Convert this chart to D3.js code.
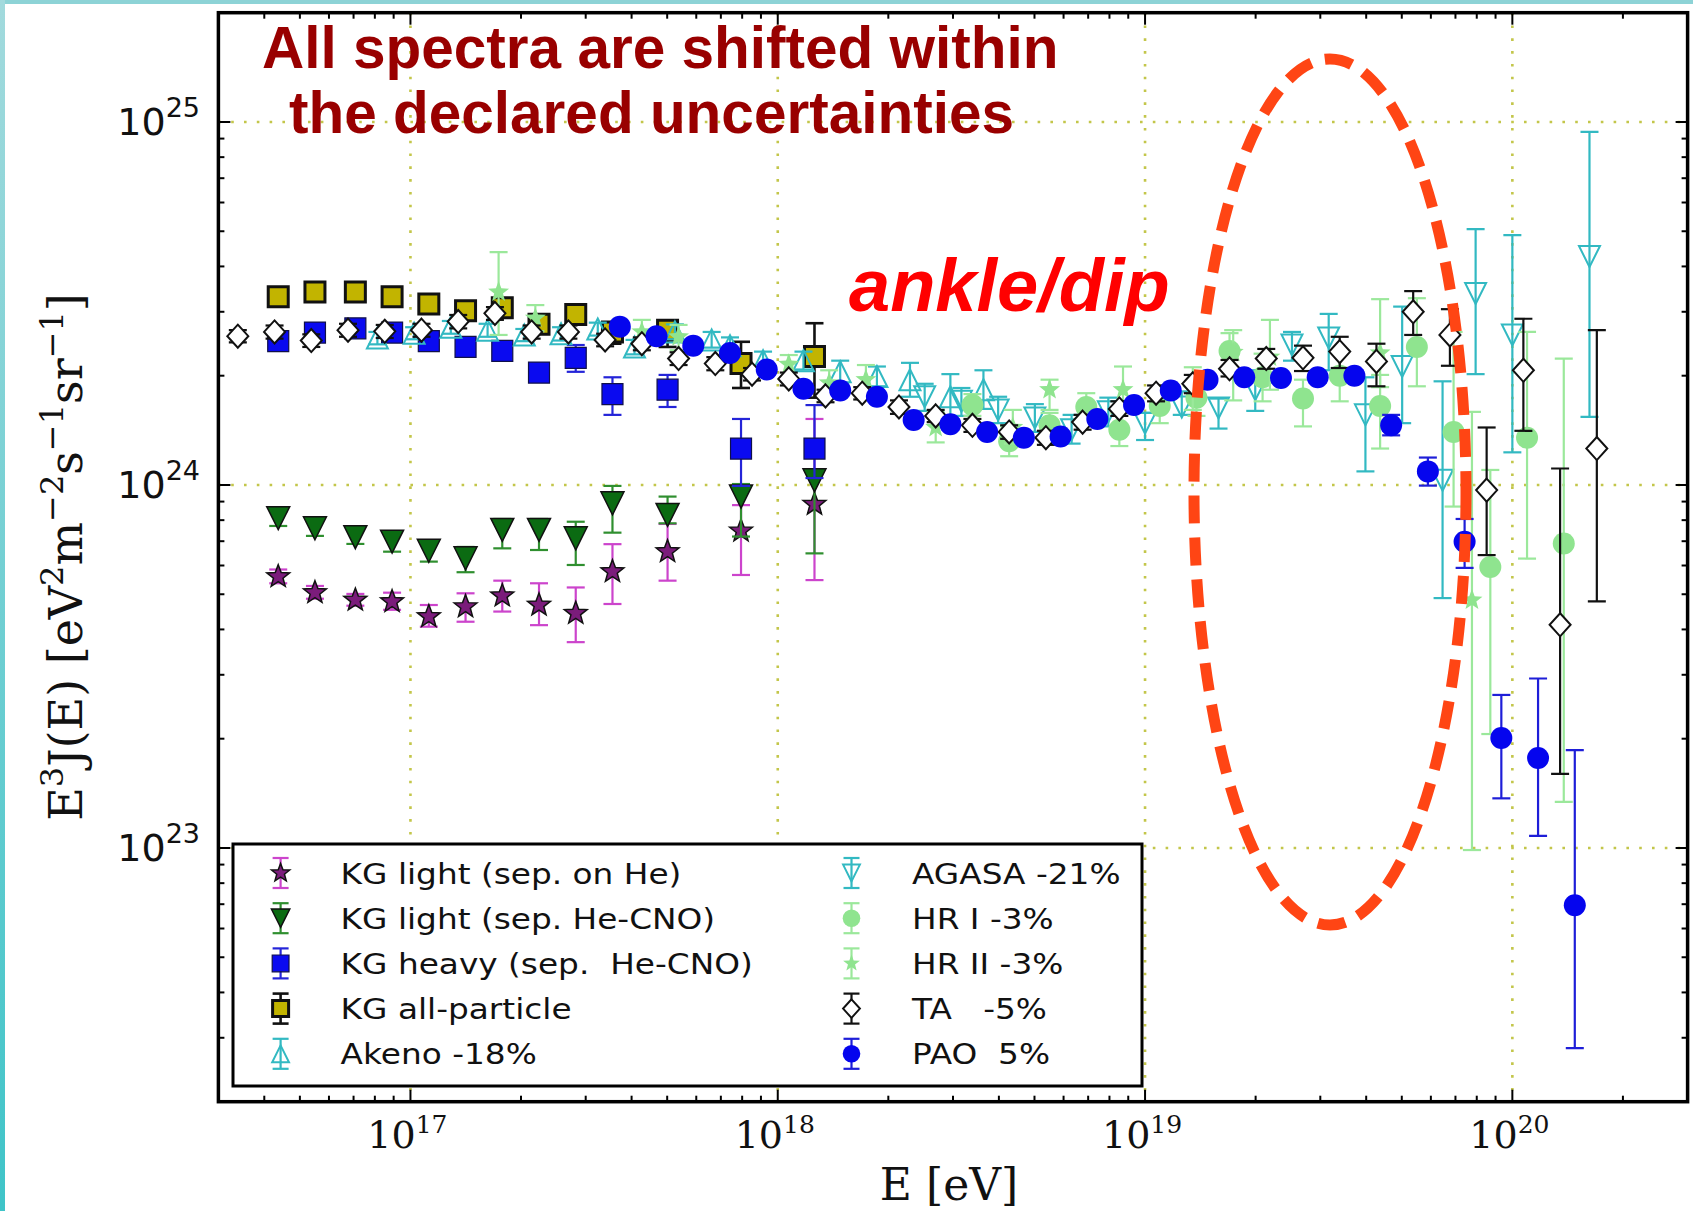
<!DOCTYPE html>
<html>
<head>
<meta charset="utf-8">
<script src="https://cdn.jsdelivr.net/npm/d3@7"></script>
<style>
  html, body { margin: 0; padding: 0; background: #fff; }
  svg { display: block; }
  text { white-space: pre; }
</style>
</head>
<body>
<div id="chart"></div>
<script>
// energies are log10(E/eV), fluxes are E^3 J(E) in units of 1e24 eV^2 m^-2 s^-1 sr^-1

var xTickExp = [17, 18, 19, 20];
var yTickExp = [23, 24, 25];

var kgLogE = [16.64, 16.74, 16.85, 16.95, 17.05, 17.15, 17.25, 17.35, 17.45, 17.55, 17.70, 17.90, 18.10];

var kgHeFlux = [0.559, 0.505, 0.482, 0.477, 0.434, 0.462, 0.495, 0.467, 0.443, 0.577, 0.655, 0.747, 0.885];
var kgHeLo = [0.536, 0.486, 0.465, 0.453, 0.407, 0.420, 0.448, 0.411, 0.369, 0.470, 0.545, 0.565, 0.547];
var kgHeHi = [0.585, 0.527, 0.501, 0.505, 0.467, 0.503, 0.545, 0.536, 0.522, 0.687, 0.781, 0.880, 1.52];

var kgCnoFlux = [0.810, 0.760, 0.718, 0.698, 0.659, 0.628, 0.752, 0.752, 0.713, 0.890, 0.827, 0.929, 1.03];
var kgCnoLo = [0.771, 0.724, 0.688, 0.655, 0.615, 0.575, 0.669, 0.662, 0.602, 0.739, 0.784, 0.721, 0.648];
var kgCnoHi = [0.843, 0.791, 0.752, 0.733, 0.701, 0.675, 0.806, 0.806, 0.792, 0.994, 0.929, 1.006, 1.10];

var kgHeavyFlux = [2.49, 2.63, 2.70, 2.63, 2.49, 2.40, 2.34, 2.04, 2.24, 1.78, 1.83, 1.26, 1.26];
var kgHeavyLo = [2.42, 2.56, 2.63, 2.56, 2.42, 2.33, 2.27, 1.97, 2.05, 1.56, 1.64, 0.994, 1.045];
var kgHeavyHi = [2.56, 2.70, 2.77, 2.70, 2.56, 2.47, 2.41, 2.11, 2.43, 1.98, 2.01, 1.52, 1.66];

var kgAllFlux = [3.30, 3.40, 3.40, 3.30, 3.15, 3.02, 3.08, 2.77, 2.95, 2.64, 2.67, 2.16, 2.26];
var kgAllLo = [3.22, 3.32, 3.32, 3.22, 3.07, 2.94, 3.00, 2.69, 2.87, 2.45, 2.40, 1.85, 1.74];
var kgAllHi = [3.38, 3.48, 3.48, 3.38, 3.23, 3.10, 3.16, 2.85, 3.03, 2.76, 2.73, 2.48, 2.79];

var akenoLogE = [16.91, 17.01, 17.11, 17.21, 17.31, 17.41, 17.51, 17.61, 17.72, 17.82, 17.87, 17.96, 18.07, 18.17, 18.27, 18.36, 18.47, 18.56];
var akenoFlux = [2.54, 2.62, 2.72, 2.67, 2.59, 2.61, 2.69, 2.40, 2.64, 2.51, 2.42, 2.20, 2.20, 2.05, 1.99, 1.95, 1.75, 1.83];
var akenoLo = [2.44, 2.52, 2.61, 2.56, 2.49, 2.50, 2.58, 2.29, 2.52, 2.39, 2.30, 2.08, 2.08, 1.90, 1.87, 1.75, 1.52, 1.62];
var akenoHi = [2.64, 2.72, 2.83, 2.78, 2.69, 2.72, 2.80, 2.51, 2.77, 2.64, 2.55, 2.33, 2.33, 2.20, 2.12, 2.17, 2.02, 2.07];

var agasaLogE = [18.40, 18.50, 18.60, 18.70, 18.80, 18.90, 19.00, 19.10, 19.20, 19.30, 19.40, 19.50, 19.60, 19.70, 19.81, 19.90, 20.00, 20.21];
var agasaFlux = [1.75, 1.70, 1.61, 1.53, 1.42, 1.59, 1.48, 1.64, 1.63, 1.83, 2.43, 2.54, 1.56, 2.12, 1.03, 3.37, 2.59, 4.26];
var agasaLo = [1.60, 1.55, 1.48, 1.40, 1.30, 1.45, 1.33, 1.56, 1.43, 1.60, 2.20, 2.07, 1.09, 1.48, 0.488, 2.02, 1.23, 1.54];
var agasaHi = [1.90, 1.85, 1.75, 1.67, 1.56, 1.74, 1.58, 1.81, 1.73, 2.07, 2.64, 2.96, 1.98, 3.10, 1.93, 5.07, 4.88, 9.39];

var hr1LogE = [18.53, 18.63, 18.74, 18.84, 18.93, 19.04, 19.14, 19.23, 19.32, 19.43, 19.53, 19.64, 19.74, 19.84, 19.94, 20.04, 20.14];
var hr1Flux = [1.66, 1.32, 1.46, 1.64, 1.42, 1.65, 1.74, 2.34, 1.98, 1.73, 2.00, 1.65, 2.40, 1.40, 0.594, 1.35, 0.690];
var hr1Lo = [1.55, 1.20, 1.35, 1.50, 1.28, 1.48, 1.55, 2.10, 1.70, 1.45, 1.70, 1.26, 1.87, 0.872, 0.206, 0.627, 0.134];
var hr1Hi = [1.78, 1.45, 1.58, 1.79, 1.58, 1.84, 1.95, 2.62, 2.30, 1.95, 2.35, 2.01, 3.27, 2.64, 1.10, 2.64, 2.23];

var hr2LogE = [17.24, 17.34, 17.63, 17.73, 18.03, 18.14, 18.24, 18.43, 18.64, 18.74, 18.94, 19.13, 19.24, 19.34, 19.64, 19.89];
var hr2Flux = [3.40, 2.88, 2.64, 2.56, 2.15, 1.91, 1.95, 1.44, 1.44, 1.83, 1.83, 1.83, 2.32, 2.25, 2.31, 0.482];
var hr2Lo = [2.59, 2.65, 2.43, 2.35, 1.93, 1.76, 1.77, 1.31, 1.30, 1.61, 1.64, 1.61, 1.71, 1.83, 1.86, 0.0987];
var hr2Hi = [4.38, 3.13, 2.85, 2.76, 2.28, 2.07, 2.14, 1.59, 1.61, 1.95, 2.12, 2.11, 2.67, 2.85, 3.25, 1.59];

var taLogE = [16.53, 16.63, 16.73, 16.83, 16.93, 17.03, 17.13, 17.23, 17.33, 17.43, 17.53, 17.63, 17.73, 17.83, 17.93, 18.03, 18.13, 18.23, 18.33,
  18.43, 18.53, 18.63, 18.73, 18.83, 18.93, 19.03, 19.13, 19.23, 19.33, 19.43, 19.53, 19.63, 19.73, 19.83, 19.93, 20.03, 20.13, 20.23];
var taFlux = [2.57, 2.64, 2.50, 2.67, 2.65, 2.67, 2.82, 2.97, 2.64, 2.64, 2.51, 2.45, 2.23, 2.16, 2.02, 1.96, 1.76, 1.79, 1.64,
  1.55, 1.46, 1.40, 1.35, 1.49, 1.62, 1.79, 1.90, 2.09, 2.23, 2.24, 2.33, 2.19, 3.00, 2.59, 0.968, 2.07, 0.412, 1.26];
var taLo = [2.47, 2.53, 2.40, 2.56, 2.54, 2.56, 2.70, 2.85, 2.53, 2.53, 2.41, 2.35, 2.14, 2.07, 1.94, 1.88, 1.69, 1.72, 1.57,
  1.49, 1.40, 1.34, 1.29, 1.42, 1.55, 1.70, 1.79, 1.99, 2.09, 2.06, 2.10, 1.87, 2.59, 2.13, 0.641, 1.41, 0.160, 0.478];
var taHi = [2.67, 2.75, 2.60, 2.78, 2.76, 2.78, 2.94, 3.09, 2.75, 2.75, 2.61, 2.55, 2.32, 2.25, 2.10, 2.04, 1.83, 1.86, 1.71,
  1.61, 1.52, 1.46, 1.41, 1.56, 1.70, 1.88, 2.01, 2.21, 2.37, 2.42, 2.56, 2.45, 3.42, 3.05, 1.44, 2.87, 1.11, 2.67];

var paoLogE = [17.57, 17.67, 17.77, 17.87, 17.97, 18.07, 18.17, 18.27, 18.37, 18.47, 18.57, 18.67, 18.77, 18.87, 18.97, 19.07, 19.17,
  19.27, 19.37, 19.47, 19.57, 19.67, 19.77, 19.87, 19.97, 20.07, 20.17];
var paoFlux = [2.73, 2.57, 2.42, 2.31, 2.08, 1.84, 1.82, 1.75, 1.51, 1.47, 1.40, 1.35, 1.36, 1.52, 1.66, 1.82, 1.95,
  1.98, 1.97, 1.98, 2.00, 1.46, 1.09, 0.698, 0.201, 0.177, 0.0695];
var paoLo = [2.68, 2.52, 2.37, 2.26, 2.04, 1.80, 1.78, 1.72, 1.48, 1.44, 1.37, 1.32, 1.33, 1.49, 1.63, 1.78, 1.91,
  1.94, 1.92, 1.92, 1.93, 1.37, 0.996, 0.591, 0.137, 0.108, 0.0281];
var paoHi = [2.78, 2.62, 2.47, 2.36, 2.12, 1.88, 1.86, 1.79, 1.54, 1.50, 1.43, 1.38, 1.39, 1.55, 1.69, 1.86, 1.99,
  2.02, 2.02, 2.04, 2.07, 1.56, 1.19, 0.806, 0.264, 0.293, 0.186];

var series = [
  {name: "KG light (sep. on He)", logE: kgLogE, flux: kgHeFlux, lo: kgHeLo, hi: kgHeHi,
    shape: "star", r: 12, fill: "#7b1c7b", stroke: "#111", sw: 1.5, err: "#cc44cc", ew: 2.2},
  {name: "KG light (sep. He-CNO)", logE: kgLogE, flux: kgCnoFlux, lo: kgCnoLo, hi: kgCnoHi,
    shape: "triDown", r: 11.5, fill: "#0b6b12", stroke: "#111", sw: 1.5, err: "#2f8f2f", ew: 2.2},
  {name: "KG heavy (sep.  He-CNO)", logE: kgLogE, flux: kgHeavyFlux, lo: kgHeavyLo, hi: kgHeavyHi,
    shape: "square", r: 10.5, fill: "#0a0af0", stroke: "#10104a", sw: 1.2, err: "#2424d8", ew: 2.2},
  {name: "KG all-particle", logE: kgLogE, flux: kgAllFlux, lo: kgAllLo, hi: kgAllHi,
    shape: "square", r: 10, fill: "#c2b400", stroke: "#111", sw: 3, err: "#111", ew: 2.6},
  {name: "Akeno -18%", logE: akenoLogE, flux: akenoFlux, lo: akenoLo, hi: akenoHi,
    shape: "triUp", r: 10.5, fill: "none", stroke: "#32b9c2", sw: 2, err: "#32b9c2", ew: 2.2},
  {name: "AGASA -21%", logE: agasaLogE, flux: agasaFlux, lo: agasaLo, hi: agasaHi,
    shape: "triDown", r: 10.5, fill: "none", stroke: "#32b9c2", sw: 2, err: "#32b9c2", ew: 2.2},
  {name: "HR I -3%", logE: hr1LogE, flux: hr1Flux, lo: hr1Lo, hi: hr1Hi,
    shape: "circle", r: 11, fill: "#8fe48f", stroke: "none", sw: 0, err: "#9be89b", ew: 2.2},
  {name: "HR II -3%", logE: hr2LogE, flux: hr2Flux, lo: hr2Lo, hi: hr2Hi,
    shape: "star", r: 11, fill: "#8fe48f", stroke: "none", sw: 0, err: "#9be89b", ew: 2.2},
  {name: "TA   -5%", logE: taLogE, flux: taFlux, lo: taLo, hi: taHi,
    shape: "diamond", r: 10.5, fill: "#fff", stroke: "#111", sw: 2, err: "#111", ew: 2.2},
  {name: "PAO  5%", logE: paoLogE, flux: paoFlux, lo: paoLo, hi: paoHi,
    shape: "circle", r: 11, fill: "#0505ee", stroke: "none", sw: 0, err: "#1e1ed8", ew: 2.2}
];

function markerPath(shape, r) {
  if (shape === "circle") return d3.symbol(d3.symbolCircle, Math.PI * r * r)();
  if (shape === "square") return `M${-r},${-r}H${r}V${r}H${-r}Z`;
  if (shape === "diamond") return `M0,${-r * 1.1}L${r},0L0,${r * 1.1}L${-r},0Z`;
  if (shape === "triUp") return `M0,${-r}L${r},${r}L${-r},${r}Z`;
  if (shape === "triDown") return `M0,${r}L${r},${-r}L${-r},${-r}Z`;
  // five pointed star
  var p = [];
  for (var i = 0; i < 10; i++) {
    var rr = i % 2 ? r * 0.42 : r;
    var a = -Math.PI / 2 + i * Math.PI / 5;
    p.push((rr * Math.cos(a)).toFixed(2) + "," + (rr * Math.sin(a)).toFixed(2));
  }
  return "M" + p.join("L") + "Z";
}

var W = 1693, H = 1211;

var x = d3.scaleLog().domain([3e16, 3e20]).range([218.4, 1687.6]);
var y = d3.scaleLog().domain([2e22, 2e25]).range([1101.7, 12.7]);

const svg = d3.select("#chart")
  .append("svg")
  .attr("width", W)
  .attr("height", H);

// slide frame
var grad = svg.append("defs").append("linearGradient")
  .attr("id", "edge").attr("x1", 0).attr("y1", 0).attr("x2", 0).attr("y2", 1);
grad.append("stop").attr("offset", 0).attr("stop-color", "#a2dadd");
grad.append("stop").attr("offset", 1).attr("stop-color", "#3fc4c8");
svg.append("rect").attr("x", 0).attr("y", 0).attr("width", W).attr("height", 4).attr("fill", "#8dd3d6");
svg.append("rect").attr("x", 0).attr("y", 0).attr("width", 5).attr("height", H).attr("fill", "url(#edge)");

svg.select("defs").append("clipPath").attr("id", "plotclip")
  .append("rect")
  .attr("x", x.range()[0]).attr("y", y.range()[1])
  .attr("width", x.range()[1] - x.range()[0])
  .attr("height", y.range()[0] - y.range()[1]);

var x0 = x.range()[0], x1 = x.range()[1], y0 = y.range()[1], y1 = y.range()[0];

// grid at decades
var grid = svg.append("g")
  .attr("stroke", "#c3c64a")
  .attr("stroke-width", 2.6)
  .attr("stroke-dasharray", "2.6,10.2");
xTickExp.forEach(function (k) {
  grid.append("line").attr("x1", x(Math.pow(10, k))).attr("x2", x(Math.pow(10, k))).attr("y1", y0).attr("y2", y1);
});
yTickExp.forEach(function (k) {
  grid.append("line").attr("y1", y(Math.pow(10, k))).attr("y2", y(Math.pow(10, k))).attr("x1", x0).attr("x2", x1);
});

// data
var plot = svg.append("g").attr("clip-path", "url(#plotclip)");
var cap = 9;

series.forEach(function (s) {
  var pts = s.logE.map(function (e, i) {
    return {
      px: x(Math.pow(10, e)),
      py: y(s.flux[i] * 1e24),
      lo: y(s.lo[i] * 1e24),
      hi: y(s.hi[i] * 1e24)
    };
  });
  var g = plot.append("g");
  var eb = g.append("g").attr("stroke", s.err).attr("stroke-width", s.ew);
  eb.selectAll(".bar").data(pts).join("line")
    .attr("x1", d => d.px).attr("x2", d => d.px)
    .attr("y1", d => d.lo).attr("y2", d => d.hi);
  eb.selectAll(".capLo").data(pts).join("line")
    .attr("x1", d => d.px - cap).attr("x2", d => d.px + cap)
    .attr("y1", d => d.lo).attr("y2", d => d.lo);
  eb.selectAll(".capHi").data(pts).join("line")
    .attr("x1", d => d.px - cap).attr("x2", d => d.px + cap)
    .attr("y1", d => d.hi).attr("y2", d => d.hi);
  g.selectAll("path").data(pts).join("path")
    .attr("d", markerPath(s.shape, s.r))
    .attr("transform", d => `translate(${d.px},${d.py})`)
    .attr("fill", s.fill)
    .attr("stroke", s.stroke)
    .attr("stroke-width", s.sw)
    .attr("stroke-linejoin", "miter");
});

// frame and ticks
var axes = svg.append("g").attr("stroke", "#000");
axes.append("rect")
  .attr("x", x0).attr("y", y0).attr("width", x1 - x0).attr("height", y1 - y0)
  .attr("fill", "none").attr("stroke-width", 3.5);

function logTicks(lo, hi) {
  var out = [];
  for (var k = Math.floor(Math.log10(lo)); k <= Math.ceil(Math.log10(hi)); k++) {
    for (var m = 1; m < 10; m++) {
      var v = m * Math.pow(10, k);
      if (v >= lo * 0.999 && v <= hi * 1.001) out.push({v: v, major: m === 1});
    }
  }
  return out;
}

logTicks(3e16, 3e20).forEach(function (t) {
  var px = x(t.v), len = t.major ? 12 : 6;
  axes.append("line").attr("x1", px).attr("x2", px).attr("y1", y1).attr("y2", y1 - len).attr("stroke-width", 2);
  axes.append("line").attr("x1", px).attr("x2", px).attr("y1", y0).attr("y2", y0 + len).attr("stroke-width", 2);
});
logTicks(2e22, 2e25).forEach(function (t) {
  var py = y(t.v), len = t.major ? 12 : 6;
  axes.append("line").attr("y1", py).attr("y2", py).attr("x1", x0).attr("x2", x0 + len).attr("stroke-width", 2);
  axes.append("line").attr("y1", py).attr("y2", py).attr("x1", x1).attr("x2", x1 - len).attr("stroke-width", 2);
});

// tick labels
yTickExp.forEach(function (k) {
  var t = svg.append("text")
    .attr("x", 200).attr("y", y(Math.pow(10, k)) + 13)
    .attr("text-anchor", "end")
    .attr("font-family", "DejaVu Sans")
    .attr("font-size", 38)
    .attr("fill", "#111")
    .text("10");
  t.append("tspan").attr("dy", -18).attr("font-size", 27).text(String(k));
});
xTickExp.forEach(function (k) {
  var t = svg.append("text")
    .attr("x", x(Math.pow(10, k)) - 3).attr("y", 1148)
    .attr("text-anchor", "middle")
    .attr("font-family", "DejaVu Serif")
    .attr("font-size", 38)
    .attr("fill", "#111")
    .text("10");
  t.append("tspan").attr("dy", -15).attr("font-size", 25).text(String(k));
});

// axis titles
var yl = svg.append("text")
  .attr("transform", "translate(82,557) rotate(-90)")
  .attr("text-anchor", "middle")
  .attr("font-family", "DejaVu Serif")
  .attr("font-size", 46)
  .attr("fill", "#111");
[["E", 0], ["3", 1], ["J(E) [eV", 0], ["2", 1], ["m", 0], ["\u22122", 1], ["s", 0], ["\u22121", 1], ["sr", 0], ["\u22121", 1], ["]", 0]]
  .forEach(function (p, i, arr) {
    var prevSup = i > 0 && arr[i - 1][1];
    var dy = p[1] ? -19 : (prevSup ? 19 : 0);
    yl.append("tspan").attr("dy", dy).attr("font-size", p[1] ? 32 : 46).text(p[0]);
  });

svg.append("text")
  .attr("x", 949).attr("y", 1200)
  .attr("text-anchor", "middle")
  .attr("font-family", "DejaVu Serif")
  .attr("font-size", 44)
  .attr("fill", "#111")
  .text("E [eV]");

// legend
var leg = svg.append("g");
leg.append("rect")
  .attr("x", 233).attr("y", 844).attr("width", 909).attr("height", 242)
  .attr("fill", "#fff").attr("stroke", "#000").attr("stroke-width", 3);

series.forEach(function (s, i) {
  var col = i < 5 ? 0 : 1, row = i % 5;
  var mx = col ? 851.5 : 280.6, my = 873 + row * 45.2;
  var g = leg.append("g").attr("transform", `translate(${mx},${my})`);
  var eg = g.append("g").attr("stroke", s.err).attr("stroke-width", s.ew);
  eg.append("line").attr("x1", 0).attr("x2", 0).attr("y1", -15).attr("y2", 15);
  eg.append("line").attr("x1", -8).attr("x2", 8).attr("y1", -15).attr("y2", -15);
  eg.append("line").attr("x1", -8).attr("x2", 8).attr("y1", 15).attr("y2", 15);
  g.append("path")
    .attr("d", markerPath(s.shape, s.r * 0.8))
    .attr("fill", s.fill).attr("stroke", s.stroke).attr("stroke-width", s.sw);
  leg.append("text")
    .attr("transform", `translate(${col ? 912 : 340.6},${my + 10.5}) scale(1.13,1)`)
    .attr("font-family", "DejaVu Sans")
    .attr("font-size", 29)
    .attr("fill", "#111")
    .text(s.name);
});

// annotations
svg.append("ellipse")
  .attr("cx", 1330).attr("cy", 492).attr("rx", 136).attr("ry", 433)
  .attr("fill", "none")
  .attr("stroke", "#ff4514")
  .attr("stroke-width", 11)
  .attr("stroke-dasharray", "28,14");

svg.append("text")
  .attr("x", 849).attr("y", 311)
  .attr("font-family", "Liberation Sans, Arial, sans-serif")
  .attr("font-weight", "bold")
  .attr("font-style", "italic")
  .attr("font-size", 74)
  .attr("fill", "#ff0000")
  .text("ankle/dip");

var title = svg.append("g")
  .attr("font-family", "Liberation Sans, Arial, sans-serif")
  .attr("font-weight", "bold")
  .attr("font-size", 58.5)
  .attr("fill", "#990000");
title.append("text").attr("x", 262).attr("y", 68).text("All spectra are shifted within");
title.append("text").attr("x", 289).attr("y", 133).text("the declared uncertainties");
</script>
</body>
</html>
